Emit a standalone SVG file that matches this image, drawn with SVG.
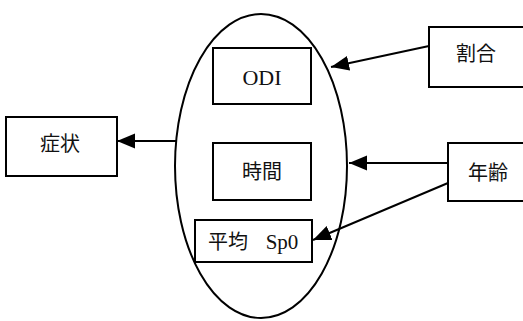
<svg xmlns="http://www.w3.org/2000/svg" width="523" height="321" viewBox="0 0 523 321">
  <style>
    .box { fill: #fff; stroke: #000; stroke-width: 2; }
    .lbl { font-family: "Liberation Serif", "Noto Sans CJK JP", serif; font-size: 20px; fill: #111; text-anchor: middle; dominant-baseline: central; }
    .latin { font-size: 22px; }
    .edge { stroke: #000; stroke-width: 2; fill: none; marker-end: url(#head); }
  </style>
  <defs>
    <marker id="head" markerUnits="userSpaceOnUse" markerWidth="19" markerHeight="16" refX="18" refY="8" orient="auto">
      <path d="M0,0.5 L18,8 L0,15.5 Z" fill="#000"/>
    </marker>
  </defs>
  <rect width="523" height="321" fill="#fff"/>

  <g id="group-ellipse">
    <ellipse cx="261" cy="166" rx="86" ry="152" fill="none" stroke="#000" stroke-width="2"/>
  </g>

  <g id="node-odi">
    <rect class="box" x="213" y="48" width="98" height="56"/>
    <text class="lbl latin" x="262" y="77">ODI</text>
  </g>
  <g id="node-jikan">
    <rect class="box" x="213" y="143" width="98" height="57"/>
    <text class="lbl" x="262" y="172">時間</text>
  </g>
  <g id="node-sp0">
    <rect class="box" x="195" y="220" width="117" height="42"/>
    <text class="lbl" y="242"><tspan x="228">平均</tspan><tspan x="282" font-size="21">Sp0</tspan></text>
  </g>
  <g id="node-shojo">
    <rect class="box" x="6" y="117" width="111" height="59"/>
    <text class="lbl" x="60" y="144">症状</text>
  </g>
  <g id="node-wariai">
    <rect class="box" x="429" y="27" width="110" height="60"/>
    <text class="lbl" x="476" y="54">割合</text>
  </g>
  <g id="node-nenrei">
    <rect class="box" x="448" y="143" width="90" height="58"/>
    <text class="lbl" x="488" y="173">年齢</text>
  </g>

  <g id="connectors">
    <line class="edge" x1="176" y1="141" x2="117" y2="141"/>
    <line class="edge" x1="429" y1="46" x2="331" y2="67"/>
    <line class="edge" x1="448" y1="163" x2="349" y2="163"/>
    <line class="edge" x1="448" y1="183" x2="313" y2="240"/>
  </g>
</svg>
